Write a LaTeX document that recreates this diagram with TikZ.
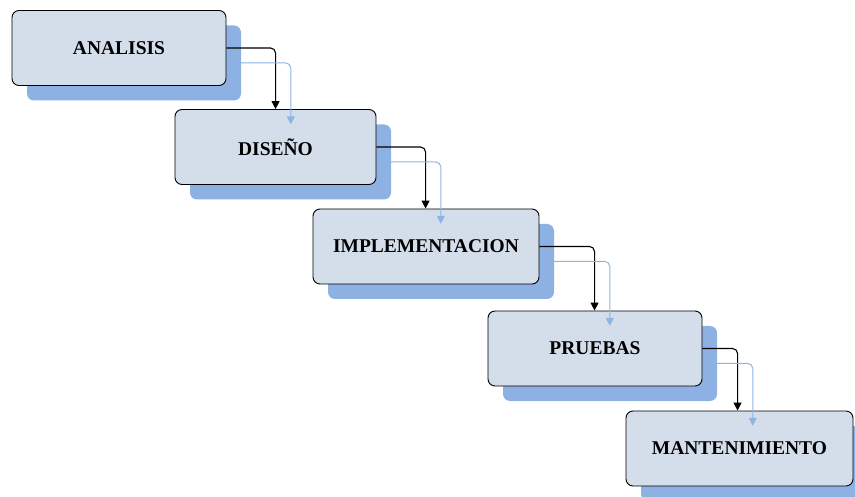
\documentclass[tikz,border=0pt]{standalone}
\usepackage{fontspec}
\setmainfont{Liberation Serif}
\usetikzlibrary{arrows.meta}
\definecolor{boxfill}{HTML}{D4DEEB}
\definecolor{shadowblue}{HTML}{8EB1E3}
\definecolor{lineblue}{HTML}{8EB4E3}
\tikzset{
  phase/.style={draw=black, line width=0.9pt, fill=boxfill, rounded corners=7pt,
    minimum width=#1, minimum height=75pt, inner sep=0pt,
    font=\fontsize{19.5}{22}\selectfont\bfseries},
  phaseshadow/.style={fill=shadowblue, rounded corners=7pt,
    minimum width=#1, minimum height=75pt, inner sep=0pt},
  mainflow/.style={draw=black, line width=1.1pt, rounded corners=5pt,
    -{Triangle[length=8pt,width=8pt]}},
  backflow/.style={draw=lineblue, line width=1pt, rounded corners=5pt,
    -{Triangle[length=8pt,width=8pt]}}
}
\begin{document}
\begin{tikzpicture}[x=1pt,y=-1pt]
\useasboundingbox (0,0) rectangle (855,497);
% shadows behind each phase
\node[phaseshadow=214pt] (s1) at (134,63) {};
\node[phaseshadow=201pt] (s2) at (290.5,162) {};
\node[phaseshadow=226pt] (s3) at (441,261.5) {};
\node[phaseshadow=214pt] (s4) at (610,363.5) {};
\node[phaseshadow=227pt] (s5) at (754.5,463.5) {};
% phases
\node[phase=214pt] (p1) at (119,48) {ANALISIS};
\node[phase=201pt] (p2) at (275.5,147) {DISEÑO};
\node[phase=226pt] (p3) at (426,246.5) {IMPLEMENTACION};
\node[phase=214pt] (p4) at (595,348.5) {PRUEBAS};
\node[phase=227pt] (p5) at (739.5,448.5) {MANTENIMIENTO};
% forward flow
\draw[mainflow] (p1.east) -| ([xshift=101pt]p2.north west);
\draw[mainflow] (p2.east) -| ([xshift=113pt]p3.north west);
\draw[mainflow] (p3.east) -| ([xshift=107pt]p4.north west);
\draw[mainflow] (p4.east) -| ([xshift=112pt]p5.north west);
% flow from the shadows
\draw[backflow] (s1.east) -| ([xshift=101pt]s2.north west);
\draw[backflow] (s2.east) -| ([xshift=113pt]s3.north west);
\draw[backflow] (s3.east) -| ([xshift=107pt]s4.north west);
\draw[backflow] (s4.east) -| ([xshift=112pt]s5.north west);
\end{tikzpicture}
\end{document}
